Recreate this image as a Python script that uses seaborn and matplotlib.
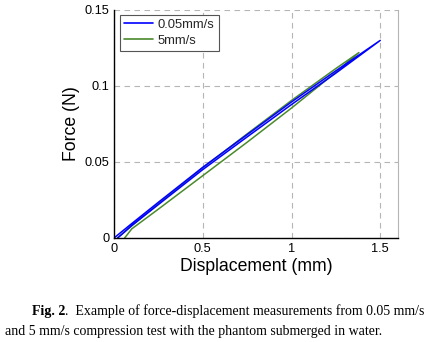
import matplotlib
matplotlib.use("Agg")
import matplotlib.pyplot as plt
import seaborn as sns
import pandas as pd

# ---- data ----
blue_load_x = [0.0, 0.1, 0.25, 0.5, 0.75, 1.0, 1.25, 1.5]
blue_load_y = [0.0, 0.0095, 0.0235, 0.0465, 0.068, 0.0895, 0.110, 0.130]
blue_unload_x = [1.5, 1.25, 1.0, 0.75, 0.5, 0.25, 0.1, 0.02]
blue_unload_y = [0.130, 0.1085, 0.0878, 0.0665, 0.0450, 0.0220, 0.0082, 0.0]

green_load_x = [0.02, 0.1, 0.25, 0.5, 0.75, 1.0, 1.25, 1.38]
green_load_y = [0.0, 0.0080, 0.0225, 0.0462, 0.0685, 0.0905, 0.1115, 0.122]
green_unload_x = [1.38, 1.25, 1.0, 0.75, 0.5, 0.25, 0.1, 0.06]
green_unload_y = [0.122, 0.109, 0.0855, 0.063, 0.041, 0.019, 0.006, 0.0]

series_names = ["0.05mm/s", "5mm/s"]
x_ticks = [0, 0.5, 1, 1.5]
x_tick_labels = ["0", "0.5", "1", "1.5"]
y_ticks = [0, 0.05, 0.1, 0.15]
y_tick_labels = ["0", "0.05", "0.1", "0.15"]
caption_bold = "Fig. 2"
caption_line1 = ".  Example of force-displacement measurements from 0.05 mm/s"
caption_line2 = "and 5 mm/s compression test with the phantom submerged in water."


def frame(name, lx, ly, ux, uy):
    rows = []
    for i, (a, b) in enumerate(zip(lx + ux, ly + uy)):
        rows.append({"x": a, "y": b, "series": name, "order": i})
    return pd.DataFrame(rows)


df_blue = frame(series_names[0], blue_load_x, blue_load_y, blue_unload_x, blue_unload_y)
df_green = frame(series_names[1], green_load_x, green_load_y, green_unload_x, green_unload_y)

sns.set_theme(style="white")
plt.rcParams["font.family"] = ["Liberation Sans", "DejaVu Sans"]

fig = plt.figure(figsize=(4.29, 3.42), dpi=100)
ax = fig.add_axes([114 / 429, 1 - 238 / 342, (398 - 114) / 429, (238 - 10) / 342])

blue = "#0000ff"
green = "#4a8a2c"

sns.lineplot(data=df_green, x="x", y="y", sort=False, estimator=None, color=green,
             linewidth=1.1, ax=ax, label=series_names[1])
sns.lineplot(data=df_blue, x="x", y="y", sort=False, estimator=None, color=blue,
             linewidth=1.1, ax=ax, label=series_names[0])

ax.set_xlim(0, 1.6)
ax.set_ylim(0, 0.15)
ax.set_xticks(x_ticks)
ax.set_xticklabels(x_tick_labels)
ax.set_yticks(y_ticks)
ax.set_yticklabels(y_tick_labels)
ax.tick_params(axis="both", direction="in", length=3, width=0.8, colors="black",
               labelsize=9.2, labelcolor="black")
ax.tick_params(axis="x", pad=3.5)
ax.tick_params(axis="y", pad=3.5)
ax.grid(True, linestyle=(0, (5, 4)), color="#b5b5b5", linewidth=0.8)

for s in ["left", "bottom"]:
    ax.spines[s].set_color("black")
    ax.spines[s].set_linewidth(1.0)
ax.spines["top"].set_visible(False)
ax.spines["right"].set_color("#b5b5b5")
ax.spines["right"].set_linewidth(0.8)

ax.set_xlabel("Displacement (mm)", fontsize=12.7, labelpad=2, color="black")
ax.set_ylabel("Force (N)", fontsize=12.7, labelpad=3, color="black")

h, l = ax.get_legend_handles_labels()
order = [l.index(series_names[0]), l.index(series_names[1])]
leg = ax.legend([h[i] for i in order], [l[i] for i in order], loc="upper left",
                bbox_to_anchor=(0.012, 0.99), fontsize=9.4, frameon=True, fancybox=False,
                edgecolor="#555555", framealpha=1, handlelength=2.2, handletextpad=0.4,
                borderpad=0.3, labelspacing=0.3, borderaxespad=0.2)
leg.get_frame().set_linewidth(0.8)
for ln in leg.get_lines():
    ln.set_linewidth(1.2)

# caption
fig.canvas.draw()
r = fig.canvas.get_renderer()
t1 = fig.text(32 / 429, 1 - 315 / 342, caption_bold, fontsize=10, fontweight="bold",
              family=["Liberation Serif"], ha="left", va="baseline", color="black")
bb = t1.get_window_extent(renderer=r)
x2 = bb.x1 / fig.bbox.width
fig.text(x2, 1 - 315 / 342, caption_line1, fontsize=10, family=["Liberation Serif"],
         ha="left", va="baseline", color="black")
fig.text(5 / 429, 1 - 335 / 342, caption_line2, fontsize=10, family=["Liberation Serif"],
         ha="left", va="baseline", color="black")

fig.savefig("out.png", dpi=100)
